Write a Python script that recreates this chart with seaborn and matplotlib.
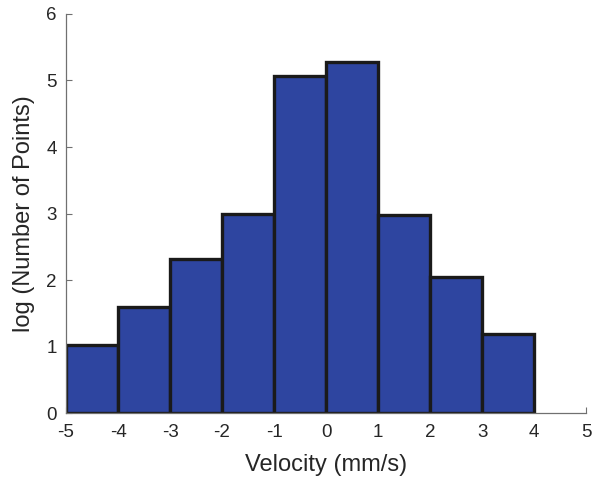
import matplotlib
matplotlib.use("Agg")
import matplotlib.pyplot as plt
import seaborn as sns
import numpy as np

bin_edges = [-5, -4, -3, -2, -1, 0, 1, 2, 3, 4]
log_counts = [1.03, 1.59, 2.32, 3.0, 5.07, 5.28, 2.98, 2.05, 1.19]
x_ticks = [-5, -4, -3, -2, -1, 0, 1, 2, 3, 4, 5]
y_ticks = [0, 1, 2, 3, 4, 5, 6]

sns.set_style("white")
plt.rcParams['font.family'] = ['Liberation Sans', 'DejaVu Sans']

centers = [(bin_edges[i] + bin_edges[i + 1]) / 2 for i in range(len(log_counts))]

fig = plt.figure(figsize=(5.92, 4.82), dpi=100)
ax = fig.add_axes([0.1115, 0.143, 0.8785, 0.828])
sns.histplot(x=centers, weights=log_counts, bins=bin_edges, ax=ax,
             color="#2E45A0", alpha=1, edgecolor="#1a1a1a", linewidth=2.4)

ax.set_xlim(-5, 5)
ax.set_ylim(0, 6)
ax.set_xticks(x_ticks)
ax.set_yticks(y_ticks)
ax.set_xticklabels([str(t) for t in x_ticks])
ax.set_yticklabels([str(t) for t in y_ticks])
ax.set_xlabel("Velocity (mm/s)", fontsize=17, labelpad=9)
ax.set_ylabel("log (Number of Points)", fontsize=17, labelpad=8.5)
ax.tick_params(axis='both', direction='in', length=4, width=0.8, color='#707070',
               labelsize=13.5, left=True, bottom=True)
ax.tick_params(axis='x', pad=8)
ax.tick_params(axis='y', pad=6.5)
for s in ['top', 'right']:
    ax.spines[s].set_visible(False)
for s in ['left', 'bottom']:
    ax.spines[s].set_color('#707070')
    ax.spines[s].set_linewidth(0.9)

fig.savefig("out.png", dpi=100)
